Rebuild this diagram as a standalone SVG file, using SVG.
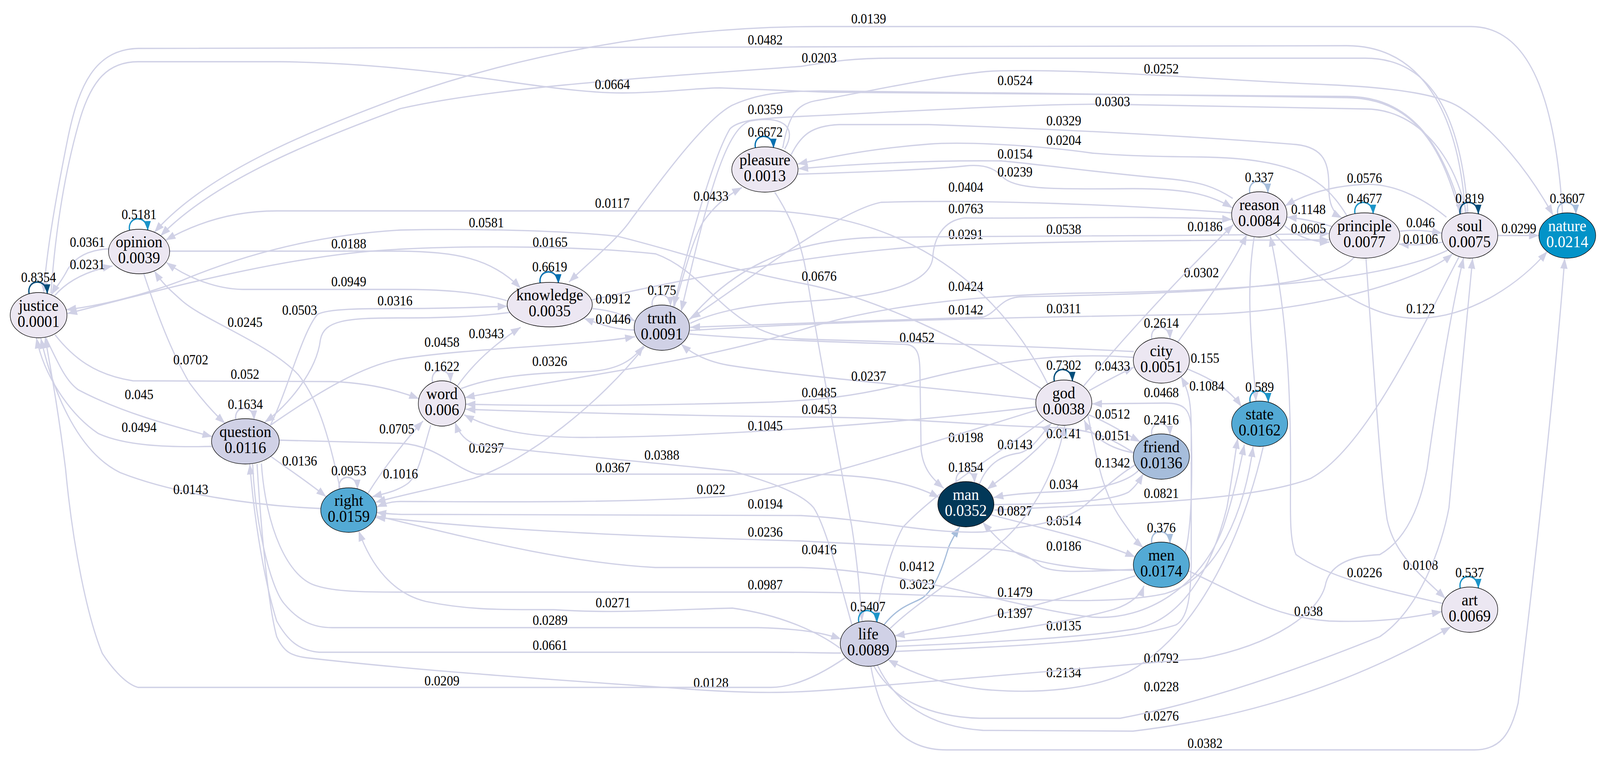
<svg xmlns="http://www.w3.org/2000/svg" width="4399" height="1951" viewBox="0 0 4399 1951">
<style>
.e{fill:none;stroke:#d0d1e6;stroke-width:3.3;marker-end:url(#m-lav)}
.e.lb{stroke:#a6bddb;marker-end:url(#m-lb)}
.lp{fill:none;stroke-width:3.6}
.lp.lav{stroke:#d0d1e6;marker-end:url(#s-lav)}
.lp.lb{stroke:#a6bddb;marker-end:url(#s-lb)}
.lp.mb{stroke:#1c94c8;marker-end:url(#s-mb)}
.lp.db{stroke:#0570b0;marker-end:url(#s-db)}
.lp.dk{stroke:#034e7b;marker-end:url(#s-dk)}
.lbl{font-family:'Liberation Serif','Times New Roman',serif;font-size:35px;text-anchor:middle;fill:#000}
.nt{font-family:'Liberation Serif','Times New Roman',serif;font-size:42px;text-anchor:middle;fill:#000}
.nt.w{fill:#fff}
.n ellipse{stroke:#000;stroke-width:1.4}
.c1{fill:#ece7f2}.c2{fill:#d0d1e6}.c3{fill:#a6bddb}.c4{fill:#53aad5}.c5{fill:#0393c8}.c6{fill:#023858}
</style>
<defs>
<marker id="m-lav" viewBox="0 0 27 20" refX="27" refY="10" markerWidth="27" markerHeight="20" markerUnits="userSpaceOnUse" orient="auto"><path d="M0,0 L27,10 L0,20 z" fill="#d0d1e6"/></marker>
<marker id="m-lb" viewBox="0 0 27 20" refX="27" refY="10" markerWidth="27" markerHeight="20" markerUnits="userSpaceOnUse" orient="auto"><path d="M0,0 L27,10 L0,20 z" fill="#a6bddb"/></marker>
<marker id="s-lav" viewBox="0 0 24 19" refX="24" refY="9.5" markerWidth="24" markerHeight="19" markerUnits="userSpaceOnUse" orient="auto"><path d="M0,0 L24,9.5 L0,19 z" fill="#d0d1e6"/></marker>
<marker id="s-lb" viewBox="0 0 24 19" refX="24" refY="9.5" markerWidth="24" markerHeight="19" markerUnits="userSpaceOnUse" orient="auto"><path d="M0,0 L24,9.5 L0,19 z" fill="#a6bddb"/></marker>
<marker id="s-mb" viewBox="0 0 24 19" refX="24" refY="9.5" markerWidth="24" markerHeight="19" markerUnits="userSpaceOnUse" orient="auto"><path d="M0,0 L24,9.5 L0,19 z" fill="#1c94c8"/></marker>
<marker id="s-db" viewBox="0 0 24 19" refX="24" refY="9.5" markerWidth="24" markerHeight="19" markerUnits="userSpaceOnUse" orient="auto"><path d="M0,0 L24,9.5 L0,19 z" fill="#0570b0"/></marker>
<marker id="s-dk" viewBox="0 0 24 19" refX="24" refY="9.5" markerWidth="24" markerHeight="19" markerUnits="userSpaceOnUse" orient="auto"><path d="M0,0 L24,9.5 L0,19 z" fill="#034e7b"/></marker>
</defs>
<rect width="4399" height="1951" fill="#fff"/>
<g id="diagram" transform="scale(0.932,1)">
<g id="connectors">
<g><path class="e" d="M4292,546 C4275,300 4220,68 4040,68 L2250,68 C1800,68 1400,150 1100,249 C820,345 560,450 424,595"/><text class="lbl" x="2386" y="60">0.0139</text></g>
<g><path class="e" d="M4025,546 C4010,330 3930,118 3700,117 L2200,120 L380,124 C260,126 215,220 185,360 C155,500 128,640 120,750"/><text class="lbl" x="2102" y="114">0.0482</text></g>
<g><path class="e" d="M4032,545 C4015,330 3950,149 3750,149 L2450,149 C2330,149 2270,160 2200,170 C1750,200 1350,225 1100,278 C830,370 580,470 441,604"/><text class="lbl" x="2250" y="160">0.0203</text></g>
<g><path class="e" d="M140,751 C150,620 170,470 215,320 C250,200 300,158 380,158 L770,158 C950,160 1150,175 1395,209 C1550,230 1640,238 1710,238 C1820,238 1900,226 1977,225 L2270,236 C2800,242 3300,247 3700,247 C3870,247 3960,360 4016,548"/><text class="lbl" x="1682" y="228">0.0664</text></g>
<g><path class="e" d="M2150,379 C2165,300 2185,268 2240,258 C2400,232 2600,190 2726,182 C3000,175 3300,203 3650,217 C3850,225 3960,245 4010,275 C4110,335 4200,440 4266,551"/><text class="lbl" x="3190" y="188">0.0252</text></g>
<g><path class="e" d="M4010,549 C3960,370 3880,252 3700,250 C3300,245 2700,236 2270,233 C2150,232 2080,240 2010,270 C1930,310 1800,480 1735,560 C1700,610 1620,670 1563,722"/><text class="lbl" x="2788" y="218">0.0524</text></g>
<g><path class="e" d="M4028,545 C3990,380 3880,279 3750,279 L3112,268 C2900,262 2600,280 2200,298 C2100,303 2030,305 2005,330 C1960,400 1900,600 1850,785"/><text class="lbl" x="3056" y="272">0.0303</text></g>
<g><path class="e" d="M2155,382 C2195,320 2140,295 2060,310 C1990,330 1940,520 1871,797"/><text class="lbl" x="2102" y="292">0.0359</text></g>
<g><path class="e" d="M2172,398 C2200,345 2230,322 2305,319 L2551,319 C2900,330 3300,350 3560,370 C3640,378 3650,420 3650,480 C3650,520 3660,545 3686,558"/><text class="lbl" x="2922" y="321">0.0329</text></g>
<g><path class="e" d="M3700,553 C3640,460 3560,405 3300,402 C3100,400 3040,395 3000,392 C2850,372 2650,362 2551,369 C2400,380 2300,398 2191,420"/><text class="lbl" x="2922" y="371">0.0204</text></g>
<g><path class="e" d="M3386,508 C3340,480 3300,465 3200,457 C3000,440 2850,420 2750,412 C2550,410 2350,420 2193,432"/><text class="lbl" x="2788" y="406">0.0154</text></g>
<g><path class="e" d="M2191,446 C2400,440 2580,432 2650,425 C2720,418 2740,440 2760,458 C2800,485 2900,485 3112,483 C3250,483 3320,495 3385,532"/><text class="lbl" x="2788" y="452">0.0239</text></g>
<g><path class="e" d="M3383,545 C3100,525 2700,510 2420,518 C2300,540 2050,720 1897,816"/><text class="lbl" x="2653" y="491">0.0404</text></g>
<g><path class="e" d="M1895,828 C1960,800 2050,780 2200,772 C2450,760 2555,720 2562,660 C2565,610 2590,565 2649,558 C2850,560 3200,552 3384,562"/><text class="lbl" x="2653" y="546">0.0763</text></g>
<g><path class="e" d="M1625,768 C1950,700 2300,640 2600,628 C3000,615 3400,615 3651,614"/><text class="lbl" x="2653" y="612">0.0291</text></g>
<g><path class="e" d="M1892,820 C2000,700 2150,615 2400,608 C2800,603 3300,605 3652,598"/><text class="lbl" x="2922" y="599">0.0538</text></g>
<g><path class="e" d="M3720,658 C3650,740 3300,750 2800,760 C2745,765 2740,800 2700,812 C2500,818 2100,830 1896,838"/><text class="lbl" x="2653" y="805">0.0142</text></g>
<g><path class="e" d="M3978,640 C3800,720 3400,745 3000,750 C2600,755 2350,800 2200,845 C1900,930 1600,960 1277,1018"/><text class="lbl" x="2653" y="745">0.0424</text></g>
<g><path class="e" d="M1895,846 C2300,822 2800,812 3300,805 C3600,800 3900,720 3990,650"/><text class="lbl" x="2922" y="802">0.0311</text></g>
<g><path class="e" d="M1893,855 C2100,872 2400,878 2490,882 C2525,885 2527,920 2527,960 L2530,1150 C2535,1200 2560,1225 2592,1250"/><text class="lbl" x="2519" y="876">0.0452</text></g>
<g><path class="e" d="M2846,1023 C2600,995 2200,965 2000,935 C1940,925 1900,905 1871,881"/><text class="lbl" x="2386" y="975">0.0237</text></g>
<g><path class="e" d="M2878,983 C2780,800 2600,620 2300,560 C2200,545 2150,540 2100,540 L760,540 C640,540 540,570 455,615"/><text class="lbl" x="1682" y="532">0.0117</text></g>
<g><path class="e" d="M1852,785 C1880,700 1900,620 1930,570 C1960,530 1990,505 2038,480"/><text class="lbl" x="1953" y="514">0.0433</text></g>
<g><path class="e" d="M2862,996 C2650,870 2400,760 2200,725 C2000,690 1850,640 1696,605 C1550,590 1300,585 1100,589 C900,600 700,640 500,718 C380,760 260,785 182,793"/><text class="lbl" x="1336" y="582">0.0581</text></g>
<g><path class="e" d="M3114,900 C2800,885 2450,875 2200,868 C2000,860 1950,700 1801,650 C1600,630 1300,628 1100,638 C800,650 450,740 185,803"/><text class="lbl" x="1511" y="632">0.0165</text></g>
<g><path class="e" d="M466,643 L1100,643 C1250,645 1350,660 1430,738"/><text class="lbl" x="958" y="636">0.0188</text></g>
<g><path class="e" d="M299,637 C240,640 200,660 180,700 C165,725 150,740 141,755"/><text class="lbl" x="240" y="632">0.0361</text></g>
<g><path class="e" d="M150,757 C180,725 230,695 309,681"/><text class="lbl" x="240" y="689">0.0231</text></g>
<g><path class="e" d="M1393,770 C1300,745 1200,741 1100,741 L666,741 C600,740 520,715 457,672"/><text class="lbl" x="958" y="733">0.0949</text></g>
<g><path class="e" d="M742,1090 C790,1000 830,850 872,805 C900,790 1000,790 1100,790 C1250,790 1330,786 1394,784"/><text class="lbl" x="1085" y="782">0.0316</text></g>
<g><path class="e" d="M1400,800 C1300,812 1200,814 1100,814 C950,814 890,820 880,870 C870,950 790,1040 727,1081"/><text class="lbl" x="823" y="806">0.0503</text></g>
<g><path class="e" d="M151,857 C200,915 260,960 365,975 L912,977 C1000,980 1080,995 1151,1021"/><text class="lbl" x="673" y="970">0.052</text></g>
<g><path class="e" d="M126,865 C160,930 180,975 215,998 C330,1055 470,1090 583,1118"/><text class="lbl" x="382" y="1022">0.045</text></g>
<g><path class="e" d="M582,1143 C450,1146 340,1140 270,1110 C190,1060 120,960 100,865"/><text class="lbl" x="382" y="1106">0.0494</text></g>
<g><path class="e" d="M881,1302 C700,1295 480,1265 330,1210 C220,1160 150,1020 112,866"/><text class="lbl" x="524" y="1265">0.0143</text></g>
<g><path class="e" d="M395,701 C430,800 470,900 520,980 C560,1030 590,1060 618,1084"/><text class="lbl" x="524" y="933">0.0702</text></g>
<g><path class="e" d="M934,1251 C900,1100 870,1020 820,960 C740,880 560,820 500,770 C470,745 445,725 424,694"/><text class="lbl" x="673" y="837">0.0245</text></g>
<g><path class="e" d="M743,1168 C790,1200 840,1230 896,1272"/><text class="lbl" x="823" y="1192">0.0136</text></g>
<g><path class="e" d="M1010,1264 C1060,1190 1120,1120 1162,1078"/><text class="lbl" x="1090" y="1110">0.0705</text></g>
<g><path class="e" d="M1183,1089 C1160,1160 1150,1215 1120,1238 C1090,1258 1055,1264 1022,1272"/><text class="lbl" x="1100" y="1225">0.1016</text></g>
<g><path class="e" d="M744,1088 C880,1000 1000,935 1100,919 C1300,890 1600,885 1744,862"/><text class="lbl" x="1214" y="888">0.0458</text></g>
<g><path class="e" d="M1627,790 C1680,795 1710,805 1744,822"/><text class="lbl" x="1684" y="777">0.0912</text></g>
<g><path class="e" d="M1745,845 C1700,845 1660,835 1604,815"/><text class="lbl" x="1684" y="829">0.0446</text></g>
<g><path class="e" d="M1255,990 C1300,930 1360,880 1430,838"/><text class="lbl" x="1336" y="866">0.0343</text></g>
<g><path class="e" d="M1266,995 C1350,965 1450,955 1600,952 C1700,950 1740,920 1768,885"/><text class="lbl" x="1510" y="937">0.0326</text></g>
<g><path class="e" d="M1770,888 C1650,1030 1450,1180 1300,1225 C1200,1250 1100,1268 1032,1286"/><text class="lbl" x="1336" y="1159">0.0297</text></g>
<g><path class="e" d="M2846,1042 C2500,1080 2000,1118 1600,1120 C1450,1120 1350,1100 1275,1062"/><text class="lbl" x="2102" y="1102">0.1045</text></g>
<g><path class="e" d="M3114,915 C2900,900 2700,930 2500,980 C2350,1015 2250,1025 2100,1030 C1800,1038 1500,1040 1279,1035"/><text class="lbl" x="2250" y="1017">0.0485</text></g>
<g><path class="e" d="M3115,1160 C3050,1120 3000,1100 2900,1095 C2700,1090 2500,1070 2250,1068 C1900,1065 1500,1055 1279,1048"/><text class="lbl" x="2250" y="1060">0.0453</text></g>
<g><path class="e" d="M2128,492 C2175,560 2200,620 2215,700 C2240,850 2300,1150 2340,1350 C2355,1440 2362,1520 2368,1590"/><text class="lbl" x="2250" y="719">0.0676</text></g>
<g><path class="e" d="M2992,1000 C3040,975 3080,955 3115,940"/><text class="lbl" x="3056" y="949">0.0433</text></g>
<g><path class="e" d="M3255,1415 C3275,1350 3275,1200 3272,1100 C3270,1045 3250,1032 3200,1032 L3000,1034"/><text class="lbl" x="3190" y="1017">0.0468</text></g>
<g><path class="e" d="M2990,1062 C3040,1080 3090,1110 3132,1131"/><text class="lbl" x="3056" y="1072">0.0512</text></g>
<g><path class="e" d="M3118,1160 C3050,1150 3000,1120 2978,1076"/><text class="lbl" x="3056" y="1127">0.0151</text></g>
<g><path class="e" d="M2908,1088 C2850,1160 2770,1210 2711,1253"/><text class="lbl" x="2922" y="1122">0.0141</text></g>
<g><path class="e" d="M2690,1240 C2715,1180 2760,1165 2800,1160 C2840,1150 2860,1110 2888,1084"/><text class="lbl" x="2788" y="1150">0.0143</text></g>
<g><path class="e" d="M2987,1060 C3010,1150 3020,1250 3080,1330 C3110,1370 3125,1390 3140,1402"/><text class="lbl" x="3056" y="1197">0.1342</text></g>
<g><path class="e" d="M3128,1204 C3090,1240 3000,1255 2900,1259 C2820,1262 2770,1266 2729,1274"/><text class="lbl" x="2922" y="1252">0.034</text></g>
<g><path class="e" d="M2728,1292 C2900,1290 3050,1285 3100,1260 C3120,1245 3130,1230 3140,1213"/><text class="lbl" x="3190" y="1275">0.0821</text></g>
<g><path class="e" d="M4008,657 C3900,850 3750,1150 3600,1225 C3450,1280 3100,1290 2900,1298 C2820,1302 2770,1304 2731,1306"/><text class="lbl" x="2788" y="1320">0.0827</text></g>
<g><path class="e" d="M2870,1074 C2760,1150 2580,1250 2480,1350 C2440,1420 2415,1520 2405,1592"/><text class="lbl" x="2653" y="1132">0.0198</text></g>
<g><path class="e" d="M2444,1610 C2520,1540 2650,1470 2760,1380 C2850,1300 2900,1200 2925,1090"/><text class="lbl" x="2519" y="1462">0.0412</text></g>
<g><path class="e" d="M3235,876 C3300,790 3380,690 3425,600"/><text class="lbl" x="3300" y="710">0.0302</text></g>
<g><path class="e" d="M2975,990 C3100,850 3250,700 3388,575"/><text class="lbl" x="3310" y="592">0.0186</text></g>
<g><path class="e" d="M3445,607 C3420,750 3440,900 3450,1027"/><text class="lbl" x="3310" y="929">0.155</text></g>
<g><path class="e" d="M3262,945 C3330,970 3380,1000 3410,1041"/><text class="lbl" x="3315" y="1000">0.1084</text></g>
<g><path class="e" d="M3500,598 C3600,700 3750,820 3900,815 C4050,810 4180,720 4250,644"/><text class="lbl" x="3902" y="802">0.122</text></g>
<g><path class="e" d="M3658,580 C3620,568 3580,560 3535,556"/><text class="lbl" x="3594" y="548">0.1148</text></g>
<g><path class="e" d="M3528,578 C3570,610 3610,620 3652,620"/><text class="lbl" x="3594" y="597">0.0605</text></g>
<g><path class="e" d="M3973,556 C3900,500 3820,470 3750,472 C3650,476 3580,500 3530,527"/><text class="lbl" x="3748" y="468">0.0576</text></g>
<g><path class="e" d="M3845,592 C3880,588 3920,590 3961,597"/><text class="lbl" x="3902" y="582">0.046</text></g>
<g><path class="e" d="M3962,620 C3920,628 3880,628 3843,625"/><text class="lbl" x="3902" y="624">0.0106</text></g>
<g><path class="e" d="M4114,603 L4227,603"/><text class="lbl" x="4172" y="597">0.0299</text></g>
<g><path class="e" d="M3752,661 C3770,900 3790,1200 3810,1330 C3830,1420 3900,1470 3970,1532"/><text class="lbl" x="3902" y="1459">0.0108</text></g>
<g><path class="e" d="M3962,1545 C3800,1510 3650,1480 3560,1420 C3540,1380 3545,1300 3545,1200 C3545,1000 3535,800 3489,604"/><text class="lbl" x="3748" y="1478">0.0226</text></g>
<g><path class="e" d="M3265,1462 C3400,1520 3500,1580 3650,1590 C3800,1595 3880,1580 3960,1566"/><text class="lbl" x="3594" y="1577">0.038</text></g>
<g><path class="e" d="M2410,1703 C2460,1800 2550,1860 2700,1870 L3112,1872 C3400,1840 3700,1760 3985,1605"/><text class="lbl" x="3190" y="1845">0.0276</text></g>
<g><path class="e" d="M2400,1705 C2450,1790 2550,1835 2691,1839 L3077,1839 C3300,1800 3550,1720 3790,1630 C3900,1560 3960,1400 3980,1300 C4000,1100 4030,800 4045,661"/><text class="lbl" x="3190" y="1770">0.0228</text></g>
<g><path class="e" d="M2392,1706 C2420,1850 2480,1920 2600,1920 L4050,1920 C4120,1920 4150,1880 4170,1800 C4210,1500 4270,1000 4298,661"/><text class="lbl" x="3310" y="1915">0.0382</text></g>
<g><path class="e" d="M3470,1143 C3420,1350 3300,1620 3100,1720 C3000,1765 2850,1778 2700,1765 C2580,1752 2500,1720 2439,1689"/><text class="lbl" x="2922" y="1734">0.2134</text></g>
<g><path class="e" d="M2462,1655 C2700,1645 2950,1635 3112,1611 C3250,1590 3330,1450 3370,1300 C3385,1220 3393,1160 3400,1122"/><text class="lbl" x="3190" y="1697">0.0792</text></g>
<g><path class="e" d="M2458,1668 C2800,1655 3100,1640 3230,1600 C3270,1580 3272,1500 3272,1400 L3272,1100 C3272,1030 3265,1000 3244,964"/><text class="lbl" x="2922" y="1614">0.0135</text></g>
<g><path class="e" d="M3119,1474 C2900,1540 2650,1600 2458,1628"/><text class="lbl" x="2788" y="1528">0.1479</text></g>
<g><path class="e" d="M2462,1642 C2700,1630 2950,1590 3060,1560 C3110,1545 3135,1520 3142,1500"/><text class="lbl" x="2788" y="1582">0.1397</text></g>
<g><path class="e lb" d="M2428,1600 C2470,1550 2510,1545 2535,1530 C2570,1505 2590,1450 2606,1400 C2615,1380 2625,1365 2636,1349"/><text class="lbl" x="2519" y="1508">0.3023</text></g>
<g><path class="e" d="M2722,1318 C2850,1350 3000,1380 3118,1426"/><text class="lbl" x="2922" y="1345">0.0514</text></g>
<g><path class="e" d="M3114,1460 C2950,1460 2850,1440 2800,1420 C2760,1400 2730,1370 2699,1337"/><text class="lbl" x="2922" y="1410">0.0186</text></g>
<g><path class="e" d="M1030,1320 C1300,1380 1550,1440 1800,1453 L2200,1453 C2500,1460 2800,1560 3000,1580 C3150,1590 3300,1500 3360,1350 C3385,1280 3405,1200 3418,1138"/><text class="lbl" x="2250" y="1419">0.0416</text></g>
<g><path class="e" d="M718,1187 C730,1350 790,1480 870,1500 C920,1515 1000,1516 1100,1516 L2200,1516 C2700,1520 3000,1560 3200,1520 C3350,1480 3420,1300 3442,1143"/><text class="lbl" x="2102" y="1509">0.0987</text></g>
<g><path class="e" d="M2308,1660 C2250,1620 2150,1575 2012,1557 C1850,1560 1700,1572 1521,1561 C1400,1560 1300,1565 1170,1540 C1080,1520 1020,1450 985,1359"/><text class="lbl" x="1684" y="1555">0.0271</text></g>
<g><path class="e" d="M694,1188 C700,1330 740,1500 780,1545 C820,1590 860,1607 912,1607 L2082,1607 C2200,1610 2260,1620 2310,1636"/><text class="lbl" x="1511" y="1600">0.0289</text></g>
<g><path class="e" d="M2310,1672 C2260,1672 2200,1670 2100,1670 L877,1670 C820,1665 790,1640 760,1590 C730,1500 700,1350 686,1188"/><text class="lbl" x="1511" y="1664">0.0661</text></g>
<g><path class="e" d="M706,1188 C720,1400 740,1560 760,1630 C780,1670 800,1680 850,1685 C1200,1722 1600,1745 1900,1765 C2100,1778 2200,1775 2410,1756 C2700,1731 3000,1710 3300,1686 C3500,1650 3620,1570 3640,1500 C3650,1450 3700,1424 3790,1420 C3860,1383 3900,1300 3920,1200 C3950,1000 3985,800 4020,660"/><text class="lbl" x="1953" y="1760">0.0128</text></g>
<g><path class="e" d="M2322,1684 C2250,1730 2180,1760 2117,1760 L379,1760 C340,1750 300,1700 281,1673 C240,1580 200,1400 180,1200 C160,1050 140,950 124,864"/><text class="lbl" x="1214" y="1755">0.0209</text></g>
<g><path class="e" d="M2340,1600 C2310,1500 2270,1350 2235,1300 C2200,1260 2100,1230 2012,1206 C1800,1185 1500,1160 1310,1139 C1280,1130 1260,1110 1250,1081"/><text class="lbl" x="1818" y="1177">0.0388</text></g>
<g><path class="e" d="M767,1127 L1100,1135 C1200,1140 1250,1200 1310,1214 L2200,1214 C2350,1215 2480,1225 2580,1274"/><text class="lbl" x="1684" y="1209">0.0367</text></g>
<g><path class="e" d="M2848,1050 C2500,1150 2200,1240 2000,1270 C1700,1290 1300,1284 1100,1284 C1070,1284 1050,1292 1035,1298"/><text class="lbl" x="1953" y="1265">0.022</text></g>
<g><path class="e" d="M3118,1190 C3050,1230 3000,1280 2972,1300 C2900,1345 2800,1350 2700,1362 C2550,1368 2400,1330 2200,1320 L1100,1317 C1070,1316 1050,1314 1034,1312"/><text class="lbl" x="2102" y="1302">0.0194</text></g>
<g><path class="e" d="M3114,1458 C3000,1462 2900,1470 2860,1450 C2820,1420 2800,1408 2700,1405 C2500,1400 2300,1390 2200,1385 C1800,1375 1400,1360 1100,1330 C1070,1328 1050,1326 1031,1325"/><text class="lbl" x="2102" y="1374">0.0236</text></g>
<g><path class="lp dk" d="M80,753 C72,714 128,710 130,752"/><text class="lbl" x="106" y="722">0.8354</text></g>
<g><path class="lp mb" d="M356,591 C348,552 404,548 406,590"/><text class="lbl" x="382" y="561">0.5181</text></g>
<g><path class="lp lav" d="M648,1076 C640,1037 696,1033 698,1075"/><text class="lbl" x="674" y="1047">0.1634</text></g>
<g><path class="lp lav" d="M932,1253 C924,1214 980,1210 982,1252"/><text class="lbl" x="958" y="1217">0.0953</text></g>
<g><path class="lp lav" d="M1188,979 C1180,940 1236,936 1238,978"/><text class="lbl" x="1214" y="950">0.1622</text></g>
<g><path class="lp db" d="M1484,727 C1476,688 1532,684 1534,726"/><text class="lbl" x="1510" y="695">0.6619</text></g>
<g><path class="lp lav" d="M1792,785 C1784,746 1840,742 1842,784"/><text class="lbl" x="1818" y="755">0.175</text></g>
<g><path class="lp db" d="M2075,380 C2067,341 2123,337 2125,379"/><text class="lbl" x="2102" y="350">0.6672</text></g>
<g><path class="lp lb" d="M3433,495 C3425,456 3481,452 3483,494"/><text class="lbl" x="3459" y="466">0.337</text></g>
<g><path class="lp mb" d="M3722,549 C3714,510 3770,506 3772,548"/><text class="lbl" x="3748" y="520">0.4677</text></g>
<g><path class="lp dk" d="M4011,549 C4003,510 4059,506 4061,548"/><text class="lbl" x="4037" y="520">0.819</text></g>
<g><path class="lp lb" d="M4279,549 C4271,510 4327,506 4329,548"/><text class="lbl" x="4305" y="520">0.3607</text></g>
<g><path class="lp lav" d="M3164,869 C3156,830 3212,826 3214,868"/><text class="lbl" x="3190" y="839">0.2614</text></g>
<g><path class="lp dk" d="M2896,977 C2888,938 2944,934 2946,976"/><text class="lbl" x="2922" y="947">0.7302</text></g>
<g><path class="lp lav" d="M3164,1115 C3156,1076 3212,1072 3214,1114"/><text class="lbl" x="3190" y="1087">0.2416</text></g>
<g><path class="lp mb" d="M3434,1031 C3426,992 3482,988 3484,1030"/><text class="lbl" x="3460" y="1003">0.589</text></g>
<g><path class="lp lav" d="M2627,1237 C2619,1198 2675,1194 2677,1236"/><text class="lbl" x="2653" y="1208">0.1854</text></g>
<g><path class="lp lb" d="M3164,1392 C3156,1353 3212,1349 3214,1391"/><text class="lbl" x="3190" y="1363">0.376</text></g>
<g><path class="lp mb" d="M4011,1507 C4003,1468 4059,1464 4061,1506"/><text class="lbl" x="4037" y="1478">0.537</text></g>
<g><path class="lp mb" d="M2359,1594 C2351,1555 2407,1551 2409,1593"/><text class="lbl" x="2384" y="1565">0.5407</text></g>
</g>
<g id="node-justice" class="n"><ellipse class="c1" cx="106" cy="807" rx="78" ry="58"/><text class="nt" x="106" y="796">justice</text><text class="nt" x="106" y="837">0.0001</text></g>
<g id="node-opinion" class="n"><ellipse class="c1" cx="382" cy="644" rx="84" ry="57"/><text class="nt" x="382" y="633">opinion</text><text class="nt" x="382" y="674">0.0039</text></g>
<g id="node-question" class="n"><ellipse class="c2" cx="674" cy="1130" rx="93" ry="58"/><text class="nt" x="674" y="1119">question</text><text class="nt" x="674" y="1160">0.0116</text></g>
<g id="node-right" class="n"><ellipse class="c4" cx="958" cy="1306" rx="77" ry="57"/><text class="nt" x="958" y="1295">right</text><text class="nt" x="958" y="1336">0.0159</text></g>
<g id="node-word" class="n"><ellipse class="c1" cx="1214" cy="1033" rx="65" ry="58"/><text class="nt" x="1214" y="1022">word</text><text class="nt" x="1214" y="1063">0.006</text></g>
<g id="node-knowledge" class="n"><ellipse class="c1" cx="1510" cy="780" rx="117" ry="57"/><text class="nt" x="1510" y="769">knowledge</text><text class="nt" x="1510" y="810">0.0035</text></g>
<g id="node-truth" class="n"><ellipse class="c2" cx="1818" cy="839" rx="76" ry="58"/><text class="nt" x="1818" y="828">truth</text><text class="nt" x="1818" y="869">0.0091</text></g>
<g id="node-pleasure" class="n"><ellipse class="c1" cx="2101" cy="434" rx="91" ry="58"/><text class="nt" x="2101" y="423">pleasure</text><text class="nt" x="2101" y="464">0.0013</text></g>
<g id="node-life" class="n"><ellipse class="c2" cx="2385" cy="1648" rx="77" ry="58"/><text class="nt" x="2385" y="1637">life</text><text class="nt" x="2385" y="1678">0.0089</text></g>
<g id="node-man" class="n"><ellipse class="c6" cx="2653" cy="1291" rx="77" ry="58"/><text class="nt w" x="2653" y="1280">man</text><text class="nt w" x="2653" y="1321">0.0352</text></g>
<g id="node-god" class="n"><ellipse class="c1" cx="2922" cy="1031" rx="77" ry="58"/><text class="nt" x="2922" y="1020">god</text><text class="nt" x="2922" y="1061">0.0038</text></g>
<g id="node-city" class="n"><ellipse class="c1" cx="3190" cy="923" rx="77" ry="58"/><text class="nt" x="3190" y="912">city</text><text class="nt" x="3190" y="953">0.0051</text></g>
<g id="node-friend" class="n"><ellipse class="c3" cx="3190" cy="1169" rx="77" ry="58"/><text class="nt" x="3190" y="1158">friend</text><text class="nt" x="3190" y="1199">0.0136</text></g>
<g id="node-men" class="n"><ellipse class="c4" cx="3190" cy="1446" rx="77" ry="58"/><text class="nt" x="3190" y="1435">men</text><text class="nt" x="3190" y="1476">0.0174</text></g>
<g id="node-reason" class="n"><ellipse class="c1" cx="3459" cy="549" rx="76" ry="58"/><text class="nt" x="3459" y="538">reason</text><text class="nt" x="3459" y="579">0.0084</text></g>
<g id="node-state" class="n"><ellipse class="c4" cx="3460" cy="1085" rx="77" ry="58"/><text class="nt" x="3460" y="1074">state</text><text class="nt" x="3460" y="1115">0.0162</text></g>
<g id="node-principle" class="n"><ellipse class="c1" cx="3748" cy="603" rx="97" ry="58"/><text class="nt" x="3748" y="592">principle</text><text class="nt" x="3748" y="633">0.0077</text></g>
<g id="node-soul" class="n"><ellipse class="c1" cx="4037" cy="603" rx="77" ry="58"/><text class="nt" x="4037" y="592">soul</text><text class="nt" x="4037" y="633">0.0075</text></g>
<g id="node-art" class="n"><ellipse class="c1" cx="4037" cy="1561" rx="77" ry="58"/><text class="nt" x="4037" y="1550">art</text><text class="nt" x="4037" y="1591">0.0069</text></g>
<g id="node-nature" class="n"><ellipse class="c5" cx="4305" cy="603" rx="78" ry="58"/><text class="nt w" x="4305" y="592">nature</text><text class="nt w" x="4305" y="633">0.0214</text></g>
</g>
</svg>
